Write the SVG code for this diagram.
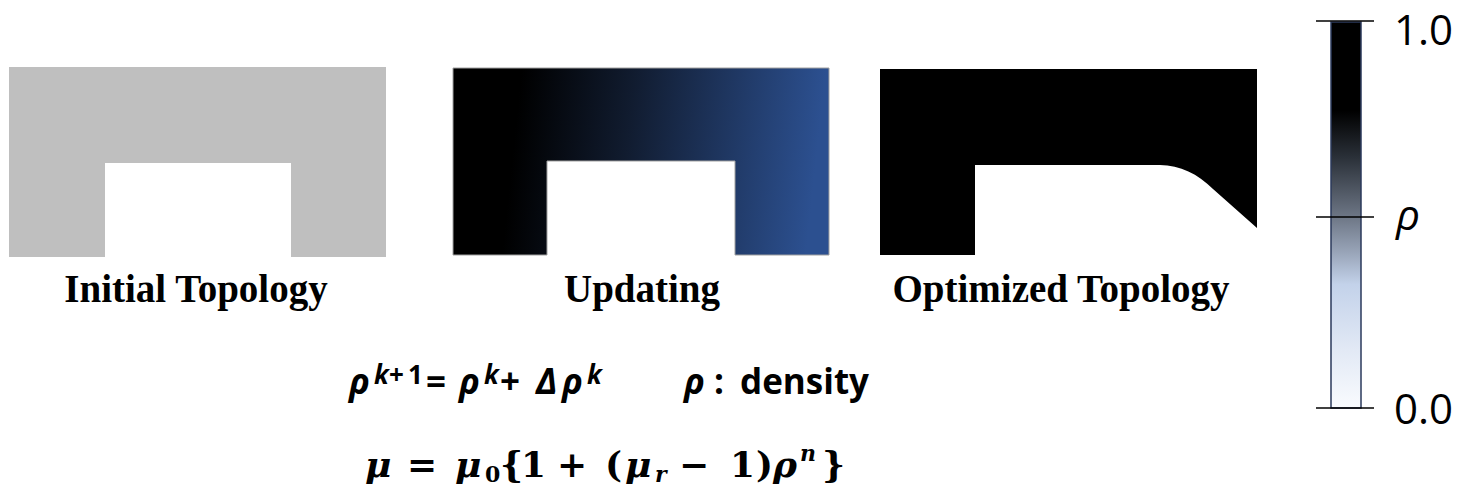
<svg xmlns="http://www.w3.org/2000/svg" width="1468" height="490" viewBox="0 0 1468 490">
<defs>
<linearGradient id="gUpd" x1="453" y1="0" x2="829" y2="40" gradientUnits="userSpaceOnUse">
<stop offset="0" stop-color="#000000"/>
<stop offset="0.2" stop-color="#000000"/>
<stop offset="0.5" stop-color="#111c30"/>
<stop offset="1" stop-color="#2c5090"/>
</linearGradient>
<linearGradient id="gBar" x1="0" y1="0" x2="0" y2="1">
<stop offset="0" stop-color="#000000"/>
<stop offset="0.23" stop-color="#000000"/>
<stop offset="0.35" stop-color="#2a3038"/>
<stop offset="0.5" stop-color="#6b7483"/>
<stop offset="0.6" stop-color="#9aa6ba"/>
<stop offset="0.68" stop-color="#c3d2ea"/>
<stop offset="0.85" stop-color="#e2e9f5"/>
<stop offset="1" stop-color="#f9fbfe"/>
</linearGradient>
</defs>
<style>
.lbl{font-family:"Liberation Serif","Times New Roman",serif;font-weight:bold;font-size:39px;fill:#000;text-anchor:middle}
.f1{font-family:"Open Sans","Noto Sans",sans-serif;font-weight:bold;font-size:35px;fill:#000}
.sup{font-size:26px}
.f2{font-family:"DejaVu Serif","Liberation Serif",serif;font-weight:bold;font-size:36px;fill:#000}
.sub{font-size:22px}
.it{font-style:italic}
.bar{font-family:"Open Sans","Noto Sans",sans-serif;font-size:42px;fill:#000}
.tick{stroke:#000;stroke-width:1.5}
</style>
<g id="initial">
<path d="M9,67 H386 V257 H291 V163 H105 V257 H9 Z" fill="#bfbfbf"/>
<text class="lbl" x="196" y="302">Initial Topology</text>
</g>
<g id="updating">
<path d="M453,68 H829 V255 H735 V161 H547 V255 H453 Z" fill="url(#gUpd)" stroke="#a0a0a0" stroke-width="1"/>
<text class="lbl" x="642" y="302">Updating</text>
</g>
<g id="optimized">
<path d="M880,69 H1257 V228 L1213,189 C1198,174 1180,165 1160,165 H975 V255 H880 Z" fill="#000"/>
<text class="lbl" x="1061" y="302">Optimized Topology</text>
</g>
<g id="colorbar">
<rect x="1331" y="22" width="30" height="386" fill="url(#gBar)" stroke="#2b3a5c" stroke-width="1.5"/>
<line class="tick" x1="1316" y1="21" x2="1374" y2="21"/>
<line class="tick" x1="1316" y1="217" x2="1374" y2="217"/>
<line class="tick" x1="1316" y1="408" x2="1374" y2="408"/>
<text class="bar" x="1394" y="45">1.0</text>
<text class="bar it" x="1396" y="230">ρ</text>
<text class="bar" x="1394" y="424">0.0</text>
</g>
<g id="formulas">
<text class="f1" y="394"><tspan class="it" x="349">ρ</tspan><tspan class="sup it" x="374" y="384">k</tspan><tspan class="sup" x="389" y="384">+</tspan><tspan class="sup" x="408" y="384">1</tspan><tspan x="426" y="394">=</tspan><tspan class="it" x="459">ρ</tspan><tspan class="sup it" x="484" y="384">k</tspan><tspan x="500" y="394">+</tspan><tspan class="it" x="536">Δ</tspan><tspan class="it" x="562">ρ</tspan><tspan class="sup it" x="587" y="384">k</tspan></text>
<text class="f1" y="394"><tspan class="it" x="684">ρ</tspan><tspan x="714">:</tspan><tspan x="740">density</tspan></text>
<text class="f2" y="477"><tspan class="it" x="365">μ</tspan><tspan x="407">=</tspan><tspan class="it" x="455">μ</tspan><tspan class="sub" x="485" y="482">0</tspan><tspan x="500" y="477">{</tspan><tspan x="521">1</tspan><tspan x="557">+</tspan><tspan x="605">(</tspan><tspan class="it" x="625">μ</tspan><tspan class="sub it" x="655" y="482">r</tspan><tspan x="679" y="477">−</tspan><tspan x="730">1</tspan><tspan x="756">)</tspan><tspan class="it" x="773">ρ</tspan><tspan class="sub it" x="800" y="461">n</tspan><tspan x="822" y="477">}</tspan></text>
</g>
</svg>
